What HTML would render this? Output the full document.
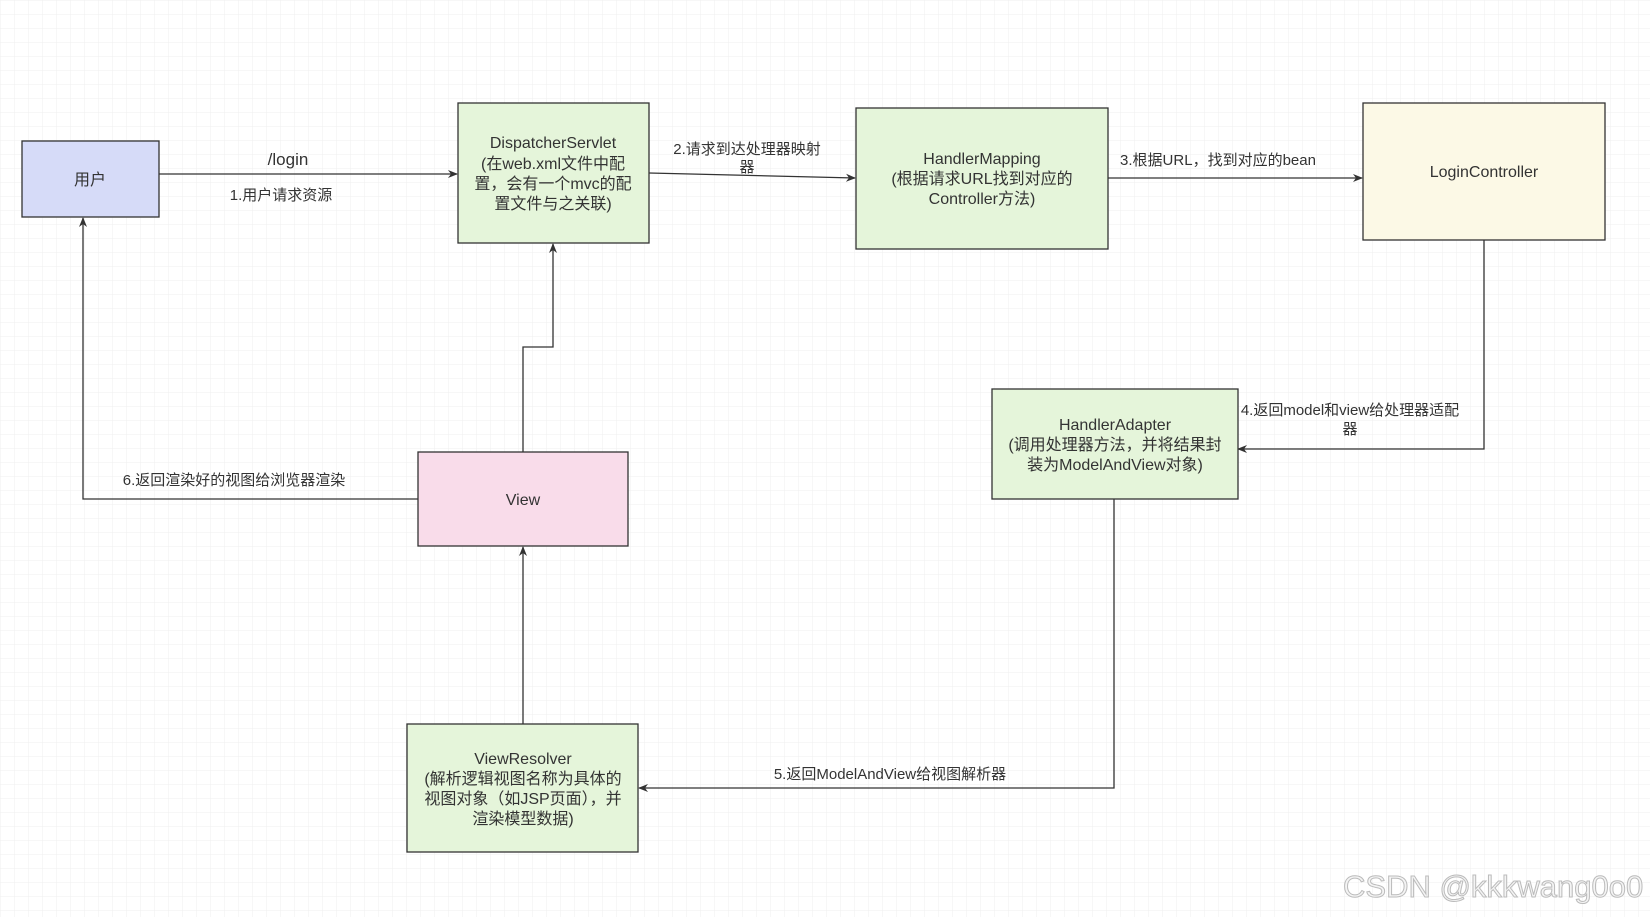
<!DOCTYPE html>
<html><head><meta charset="utf-8"><style>
html,body{margin:0;padding:0;background:#fff;}
svg{display:block;}
text{font-family:"Liberation Sans","Noto Sans CJK SC",sans-serif;fill:#333;}
</style></head><body>
<svg width="1650" height="917" viewBox="0 0 1650 917" xmlns="http://www.w3.org/2000/svg">
<defs>
<pattern id="g" width="14" height="14" patternUnits="userSpaceOnUse"><path d="M14 0H0V14" fill="none" stroke="#efefef" stroke-width="1"/></pattern>
<marker id="a" markerWidth="10" markerHeight="10" refX="9" refY="5" orient="auto" markerUnits="userSpaceOnUse"><path d="M0,1 L10,5 L0,9 L3,5z" fill="#333"/></marker>
</defs>
<rect width="1650" height="917" fill="url(#g)"/>
<g stroke="#333" stroke-width="1.3" fill="none">
<line x1="159" y1="174" x2="457" y2="174" marker-end="url(#a)"/>
<line x1="649" y1="173" x2="855" y2="178" marker-end="url(#a)"/>
<line x1="1108" y1="178" x2="1362" y2="178" marker-end="url(#a)"/>
<polyline points="1484,240 1484,449 1238,449" marker-end="url(#a)"/>
<polyline points="1114,499 1114,788 639,788" marker-end="url(#a)"/>
<line x1="523" y1="724" x2="523" y2="547" marker-end="url(#a)"/>
<polyline points="523,452 523,347 553,347 553,244" marker-end="url(#a)"/>
<polyline points="418,499 83,499 83,218" marker-end="url(#a)"/>
</g>
<g stroke="#333" stroke-width="1.3">
<rect x="22" y="141" width="137" height="76" fill="#d6dbf8"/>
<rect x="458" y="103" width="191" height="140" fill="#e5f5da"/>
<rect x="856" y="108" width="252" height="141" fill="#e5f5da"/>
<rect x="1363" y="103" width="242" height="137" fill="#fcf9e6"/>
<rect x="992" y="389" width="246" height="110" fill="#e5f5da"/>
<rect x="418" y="452" width="210" height="94" fill="#f9dcea"/>
<rect x="407" y="724" width="231" height="128" fill="#e5f5da"/>
</g>
<g font-size="16" text-anchor="middle">
<text x="90" y="185">用户</text>
<text x="553" y="148">DispatcherServlet</text>
<text x="553" y="169">(在web.xml文件中配</text>
<text x="553" y="189">置，会有一个mvc的配</text>
<text x="553" y="209">置文件与之关联)</text>
<text x="982" y="164">HandlerMapping</text>
<text x="982" y="184">(根据请求URL找到对应的</text>
<text x="982" y="204">Controller方法)</text>
<text x="1484" y="177">LoginController</text>
<text x="1115" y="430">HandlerAdapter</text>
<text x="1115" y="450">(调用处理器方法，并将结果封</text>
<text x="1115" y="470">装为ModelAndView对象)</text>
<text x="523" y="505">View</text>
<text x="523" y="764">ViewResolver</text>
<text x="523" y="784">(解析逻辑视图名称为具体的</text>
<text x="523" y="804">视图对象（如JSP页面），并</text>
<text x="523" y="824">渲染模型数据)</text>
</g>
<g font-size="15" text-anchor="middle">
<text x="288" y="165" font-size="17">/login</text>
<text x="281" y="200">1.用户请求资源</text>
<text x="747" y="154">2.请求到达处理器映射</text>
<text x="747" y="172">器</text>
<text x="1218" y="165">3.根据URL，找到对应的bean</text>
<text x="1350" y="415">4.返回model和view给处理器适配</text>
<text x="1350" y="434">器</text>
<text x="890" y="779">5.返回ModelAndView给视图解析器</text>
<text x="234" y="485">6.返回渲染好的视图给浏览器渲染</text>
</g>
<text x="1343" y="897" font-size="31" fill="#fff" stroke="#bbb" stroke-width="1" style="fill:#f4f4f4">CSDN @kkkwang0o0</text>
</svg>
</body></html>
